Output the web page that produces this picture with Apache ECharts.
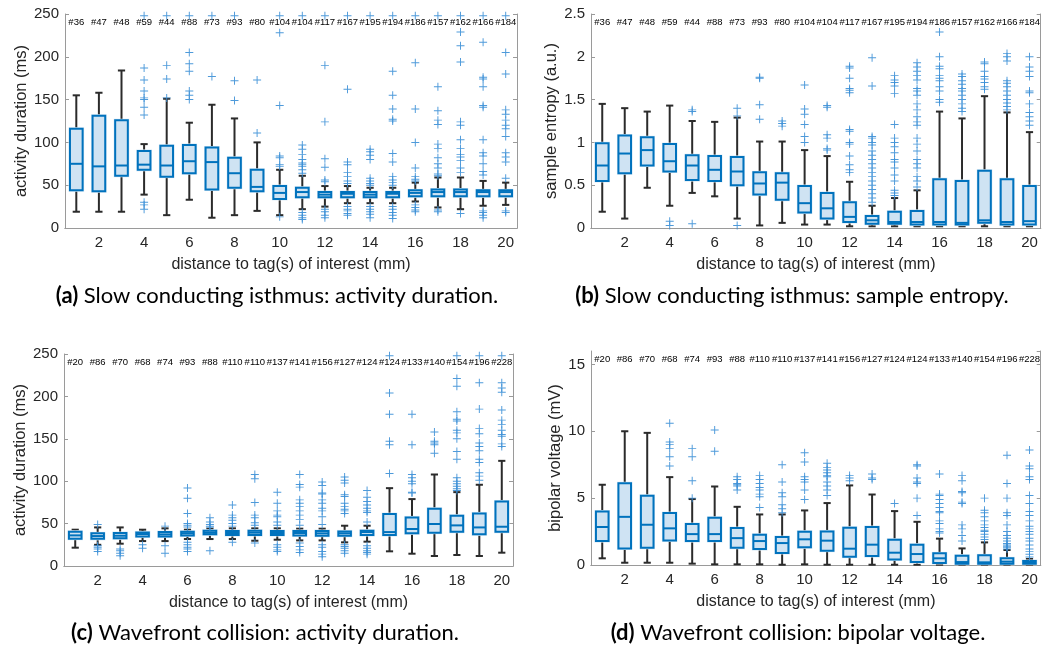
<!DOCTYPE html>
<html>
<head>
<meta charset="utf-8">
<script src="https://cdn.jsdelivr.net/npm/echarts@6/dist/echarts.min.js"></script>
<style>
html,body{margin:0;padding:0;background:#fff;}
#c{width:1043px;height:648px;}
</style>
</head>
<body>
<div id="c"></div>
<script>
// ---------- data ----------
const categories = ['1','2','3','4','5','6','7','8','9','10','11','12','13','14','15','16','17','18','19','20'];
const countsTop = ['#36','#47','#48','#59','#44','#88','#73','#93','#80','#104','#104','#117','#167','#195','#194','#186','#157','#162','#166','#184'];
const countsBottom = ['#20','#86','#70','#68','#74','#93','#88','#110','#110','#137','#141','#156','#127','#124','#124','#133','#140','#154','#196','#228'];

// [lower whisker, Q1, median, Q3, upper whisker]
const boxA = [
 [19,44,75,116,155],[19,43,72,131,158],[19,61,73,126,184],[39,68,74,90,98],[15,60,73,96,151],
 [33,64,78,97,123],[12,45,77,94,144],[15,47,64,82,128],[20,43,48,68,100],[15,34,41,49,68],
 [22,36,42,47,61],[25,36,39,42,49],[29,36,40,42,49],[29,36,39,42,47],[29,36,40,42,47],
 [31,37,41,44,53],[24,37,42,45,59],[22,37,42,45,59],[26,37,42,44,55],[27,37,42,44,53]
];
const outA = [
 [],[],[],
 [248,187,173,160,152,150,141,132,30,27,22],
 [248,190,174,152],
 [248,205,192,183,160,155,150],
 [248,177],
 [248,172,149],
 [173,111],
 [248,228,143,84,82,74,72,13],
 [248,97,92,86,80,76,74,72,68,64,18,15,12,10],
 [248,190,124,81,71,56,54,22,19,15,12],
 [248,162,77,74,65,60,55,52,25,22,20,17,15],
 [248,92,89,85,80,58,55,52,50,25,22,19,16,12],
 [248,183,155,139,127,125,87,77,60,56,53,50,25,22,18,15,11],
 [248,193,139,100,70,60,57,55,27,24,21,19],
 [248,165,137,126,121,98,93,82,75,70,63,61,21,19],
 [248,229,213,194,124,120,103,93,86,83,79,70,65,17],
 [248,217,176,174,165,143,141,103,88,84,75,66,62,20,18,15,12],
 [248,205,180,138,133,126,120,116,107,88,83,77,58,20,18]
];

const boxB = [
 [0.19,0.55,0.73,0.99,1.45],[0.11,0.64,0.87,1.08,1.40],[0.47,0.73,0.91,1.06,1.36],[0.26,0.66,0.78,0.98,1.43],[0.41,0.56,0.73,0.85,1.25],
 [0.37,0.55,0.68,0.84,1.24],[0.11,0.50,0.66,0.83,1.29],[0.03,0.39,0.52,0.65,1.01],[0.06,0.33,0.53,0.64,1.01],[0.04,0.18,0.29,0.49,0.91],
 [0.04,0.11,0.23,0.41,0.84],[0.02,0.07,0.13,0.30,0.54],[0.02,0.05,0.09,0.14,0.26],[0.02,0.05,0.07,0.19,0.35],[0.02,0.04,0.07,0.20,0.44],
 [0.02,0.04,0.07,0.57,1.36],[0.02,0.04,0.06,0.55,1.28],[0.02,0.06,0.09,0.67,1.54],[0.02,0.04,0.07,0.57,1.35],[0.02,0.04,0.08,0.49,1.12]
];
const outB = [
 [],[],[],
 [0.08,0.03],
 [1.38,1.36,0.05],
 [],
 [1.40,1.31,0.03],
 [1.76,1.75,1.44,1.27],
 [1.25,1.22,1.19],
 [1.67,1.39,1.33,1.21,1.07,1.00],
 [1.43,1.41,1.09,1.05,0.93,0.91],
 [1.89,1.87,1.75,1.63,1.61,1.58,1.15,1.13,1.0,0.98,0.84,0.74,0.68,0.65],
 [1.99,1.66,1.07,1.05,1.0,0.97,0.9,0.85,0.8,0.75,0.7,0.65,0.6,0.55,0.5,0.45,0.4,0.35,0.3],
 [1.78,1.73,1.70,1.66,1.57,1.21,1.05,1.0,0.95,0.88,0.8,0.77,0.7,0.62,0.55,0.44,0.41,0.38],
 [1.93,1.88,1.83,1.78,1.73,1.63,1.6,1.55,1.45,1.38,1.3,1.24,1.2,1.05,0.98,0.9,0.8,0.75,0.7,0.6,0.55,0.48],
 [2.29,2.0,1.89,1.86,1.78,1.75,1.72,1.65,1.6,1.5,1.47],
 [1.8,1.77,1.72,1.68,1.63,1.6,1.55,1.5,1.45,1.4,1.36],
 [1.94,1.92,1.83,1.77,1.74,1.7,1.65,1.62],
 [2.04,2.0,1.95,1.72,1.69,1.65,1.6,1.55,1.5,1.46,1.42,1.38],
 [2.0,1.88,1.83,1.77,1.6,1.58,1.45,1.35,1.3,1.25,1.2]
];

const boxC = [
 [21.6,32.2,36.1,40.4,42.8],[25,32,35.3,38.5,45.5],[26.3,32.6,35.7,38.9,45.5],[29.4,34.9,37.7,39.6,42.8],[29.4,34.9,37.3,40,44.4],
 [31.8,36.1,38.5,40.4,42.8],[31.8,37.3,39.3,41.6,44],[31.8,36.5,38.9,41.2,44.4],[29.8,36.5,39.3,41.6,44.4],[31,36.5,38.9,41.2,44.4],
 [30.2,36.1,38.9,41.2,44],[30.2,35.7,38.5,41.2,44],[27.9,35.7,38.5,40.8,47.5],[28.7,36.5,40,41.6,47.5],[17.3,36.5,40,61.2,91.8],
 [14.5,38.5,43.6,57.3,78.9],[11.8,39.3,49.5,67.5,107.9],[13,40.4,47.9,59.3,87.1],[11.8,37.3,45.5,62,95.8],[15.7,40.4,46.3,76.1,124]
];
const outC = [
 [],
 [49,24,22,20,17],
 [20,18,15,12],
 [25,21],
 [47,24,15],
 [92,80,62,50,48,46,28,25,22,20,17],
 [57,52,49,47,46,18],
 [72,60,57,54,50,47,28],
 [108,103,75,60,57,51,48,27],
 [87,74,65,60,58,52,48,25,22,19,17],
 [108,96,93,78,74,70,65,60,55,48,27,23,19,16],
 [99,95,86,85,78,74,68,65,58,49,25,22,17,14,11],
 [105,101,98,84,82,74,70,67,65,62,25,23,21,18,15],
 [89,81,76,72,68,65,63,52,24,21,18,16,14],
 [248,204,179,147,143,109],
 [179,143,108,104,100,97,87,86],
 [158,147,145,143,133],
 [248,221,212,182,173,171,160,157,150,135,126,104,100,97,94,91,89],
 [248,216,185,162,156,145,141,136,126,122,110,106,101],
 [248,216,210,205,184,172,167,160,155,153,144,141]
];

const boxD = [
 [0.5,1.79,2.84,4.0,6.0],[0.17,1.24,3.6,6.12,10.0],[0.17,1.29,3.01,5.17,9.88],[0.17,1.84,2.74,3.88,6.57],[0.1,1.79,2.31,3.06,4.93],
 [0.05,1.79,2.31,3.53,5.87],[0.05,1.29,2.01,2.76,4.35],[0.05,1.19,1.79,2.26,3.78],[0.02,0.9,1.64,2.09,3.78],[0.05,1.32,1.92,2.49,4.08],
 [0.02,1.07,1.82,2.51,4.63],[0.02,0.62,1.22,2.79,5.95],[0.02,0.67,1.52,2.84,5.27],[0.02,0.42,0.92,1.89,4.03],[0.02,0.22,0.82,1.52,3.23],
 [0.02,0.15,0.5,0.87,1.97],[0.02,0.1,0.22,0.7,1.24],[0.02,0.1,0.2,0.72,1.69],[0.02,0.1,0.25,0.5,1.12],[0.02,0.1,0.17,0.3,0.45]
];
const outD = [
 [],[],[],
 [10.6,9.2,9.0,8.7,8.1,7.4],
 [8.7,8.1,6.3,5.0],
 [10.1,8.5],
 [6.6,6.4,6.1,6.0,5.9,5.6],
 [6.7,6.4,6.1,5.8,5.6,5.3,5.1,4.3],
 [7.5,6.2,5.4,5.1,4.5,4.2,3.9],
 [8.4,7.7,6.6,6.4,6.2,5.6,4.9],
 [7.6,7.3,7.1,6.9,6.7,6.6,6.2,5.9,5.6,5.2],
 [6.7,6.5,6.3],
 [6.8,6.5,6.4],
 [4.6],
 [7.5,7.4,6.5,6.2,6.1,5.0,3.7],
 [6.8,5.3,5.2,4.9,4.6,4.3,4.0,3.9,3.3,3.1,2.7,2.5,2.4],
 [6.7,6.3,5.5,5.4,4.7,4.6,3.0,2.7,2.2,1.8],
 [5.0,4.1,3.9,3.6,3.3,3.0,2.8,2.6,2.5,2.3,2.1,1.9],
 [8.2,6.1,5.0,3.9,3.7,3.0,2.5,2.2,2.0,1.8,1.6,1.5,1.4,1.3,1.2],
 [8.6,7.4,7.2,6.6,6.4,5.2,4.6,4.0,3.7,3.3,2.9,2.7,2.5,2.3,2.0,1.8,1.5,1.2,1.0,0.8,0.6]
];

const xTitle = 'distance to tag(s) of interest (mm)';

// ---------- chart ----------
const FONT = 'Liberation Sans, Arial, Helvetica, sans-serif';
const AXC = '#9a9a9a';
const TXT = '#262626';
const BLUE = '#0072bd';
const FILL = '#cfe3f3';
const OUTC = '#3b8fd6';
const PLUS = 'path://M4.4,0H5.6V4.4H10V5.6H5.6V10H4.4V5.6H0V4.4H4.4Z';

const panels = [
  {grid:{left:65,top:14,width:452,height:214}, box:boxA, out:outA, counts:countsTop, min:0,max:250,interval:50, yName:'activity duration (ms)', yGap:35},
  {grid:{left:591,top:14,width:452,height:214}, box:boxB, out:outB, counts:countsTop, min:0,max:2.5,interval:0.5, yName:'sample entropy (a.u.)', yGap:31},
  {grid:{left:64,top:354,width:449,height:212}, box:boxC, out:outC, counts:countsBottom, min:0,max:250,interval:50, yName:'activity duration (ms)', yGap:35},
  {grid:{left:591,top:351,width:452,height:214}, box:boxD, out:outD, counts:countsBottom, min:0,max:16,interval:5, yName:'bipolar voltage (mV)', yGap:27, hideMax:true}
];

const evenIdx = (i) => i % 2 === 1;

function renderBox(params, api) {
  const i = api.value(0);
  const pLo = api.coord([i, api.value(1)]);
  const pQ1 = api.coord([i, api.value(2)]);
  const pMd = api.coord([i, api.value(3)]);
  const pQ3 = api.coord([i, api.value(4)]);
  const pHi = api.coord([i, api.value(5)]);
  const band = api.size([1, 0])[0];
  const x = pMd[0];
  const hw = band * 0.28, cw = band * 0.16;
  const ws = {stroke:'#2b2b2b', lineWidth:2};
  return {type:'group', children:[
    {type:'line', shape:{x1:x,y1:pLo[1],x2:x,y2:pQ1[1]}, style:ws},
    {type:'line', shape:{x1:x,y1:pQ3[1],x2:x,y2:pHi[1]}, style:ws},
    {type:'line', shape:{x1:x-cw,y1:pLo[1],x2:x+cw,y2:pLo[1]}, style:ws},
    {type:'line', shape:{x1:x-cw,y1:pHi[1],x2:x+cw,y2:pHi[1]}, style:ws},
    {type:'rect', shape:{x:x-hw-1.5,y:pQ3[1]-1.5,width:2*hw+3,height:pQ1[1]-pQ3[1]+3}, style:{fill:'#d6e8f5'}},
    {type:'rect', shape:{x:x-hw,y:pQ3[1],width:2*hw,height:pQ1[1]-pQ3[1]}, style:{fill:FILL, stroke:BLUE, lineWidth:2}},
    {type:'line', shape:{x1:x-hw,y1:pMd[1],x2:x+hw,y2:pMd[1]}, style:{stroke:BLUE, lineWidth:2}}
  ]};
}

const grid = [], xAxis = [], yAxis = [], series = [];
panels.forEach((p, g) => {
  grid.push(Object.assign({containLabel:false}, p.grid));
  xAxis.push({
    type:'category', gridIndex:g, data:categories, boundaryGap:true, position:'bottom',
    axisLine:{lineStyle:{color:AXC,width:1}},
    axisTick:{inside:true, length:4, alignWithLabel:true, interval:evenIdx, lineStyle:{color:AXC}},
    axisLabel:{interval:evenIdx, color:TXT, fontSize:15, fontFamily:FONT, margin:7},
    splitLine:{show:false},
    name:xTitle, nameLocation:'middle', nameGap:29,
    nameTextStyle:{fontSize:16, color:TXT, fontFamily:FONT}
  });
  xAxis.push({
    type:'category', gridIndex:g, data:p.counts, boundaryGap:true, position:'top',
    axisLine:{lineStyle:{color:AXC,width:1}},
    axisTick:{inside:true, length:4, alignWithLabel:true, interval:evenIdx, lineStyle:{color:AXC}},
    axisLabel:{inside:true, interval:0, color:'#000', fontSize:9.5, fontFamily:FONT, margin:3},
    splitLine:{show:false}
  });
  yAxis.push({
    type:'value', gridIndex:g, position:'left', min:p.min, max:p.max, interval:p.interval,
    axisLine:{show:true, lineStyle:{color:AXC,width:1}},
    axisTick:{show:true, inside:true, length:4, lineStyle:{color:AXC}},
    axisLabel:{color:TXT, fontSize:15, fontFamily:FONT, margin:6, showMaxLabel: p.hideMax ? false : true},
    splitLine:{show:false},
    name:p.yName, nameLocation:'middle', nameGap:p.yGap, nameRotate:90,
    nameTextStyle:{fontSize:16.5, color:TXT, fontFamily:FONT}
  });
  yAxis.push({
    type:'value', gridIndex:g, position:'right', min:p.min, max:p.max, interval:p.interval,
    axisLine:{show:true, lineStyle:{color:AXC,width:1}},
    axisTick:{show:true, inside:true, length:4, lineStyle:{color:AXC}},
    axisLabel:{show:false}, splitLine:{show:false}
  });
  const outData = [];
  p.out.forEach((arr, i) => arr.forEach(v => outData.push([i, v])));
  series.push({
    type:'scatter', xAxisIndex:2*g, yAxisIndex:2*g, data:outData,
    symbol:PLUS, symbolSize:8, itemStyle:{color:OUTC, opacity:0.9}, silent:true, z:3
  });
  series.push({
    type:'custom', xAxisIndex:2*g, yAxisIndex:2*g,
    data:p.box.map((b, i) => [i].concat(b)),
    encode:{x:0, y:[1,2,3,4,5]},
    renderItem:renderBox, silent:true, z:2
  });
});

const captions = [
  {x:277, y:296, label:'(a)', text:' Slow conducting isthmus: activity duration.'},
  {x:792, y:296, label:'(b)', text:' Slow conducting isthmus: sample entropy.'},
  {x:265, y:633, label:'(c)', text:' Wavefront collision: activity duration.'},
  {x:798, y:633, label:'(d)', text:' Wavefront collision: bipolar voltage.'}
];

const chart = echarts.init(document.getElementById('c'), null, {renderer:'canvas'});
chart.setOption({
  animation:false,
  backgroundColor:'#fff',
  grid, xAxis, yAxis, series,
  graphic: captions.map(c => ({
    type:'text', x:c.x, y:c.y, silent:true,
    style:{
      text:'{b|' + c.label + '}{n|' + c.text + '}',
      rich:{
        b:{fontWeight:'bold', fontSize:22, fontFamily:'Lato', fill:'#000'},
        n:{fontWeight:'normal', fontSize:22, fontFamily:'Lato', fill:'#000'}
      },
      fontSize:22, fontFamily:'Lato', fill:'#000',
      align:'center', verticalAlign:'middle', textAlign:'center', textVerticalAlign:'middle'
    }
  }))
});
</script>
</body>
</html>
